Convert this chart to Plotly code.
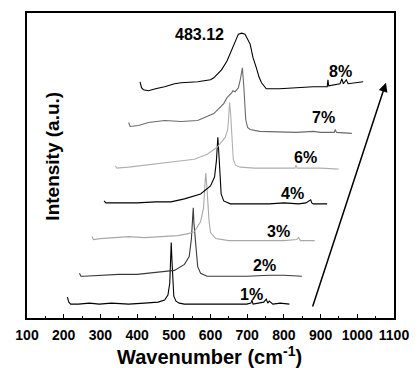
import plotly.graph_objects as go

# ---- data (wavenumber, intensity in arbitrary offset units) ----
x_1 = [210, 214, 219, 240, 270, 297, 330, 377, 420, 457, 475, 484, 489, 491, 493, 495, 497, 500, 506, 515, 529, 560, 600, 650, 699, 710, 713, 716, 730, 745, 752, 756, 760, 770, 790, 815]
y_1 = [21, 16, 14, 14, 15, 14, 15, 14, 15, 16, 18, 23, 35, 55, 76, 58, 35, 22, 17, 15, 14, 14, 14, 14, 14, 15, 18, 14, 15, 16, 19, 15, 17, 14, 15, 14]

x_2 = [243, 247, 255, 300, 350, 400, 457, 502, 529, 542, 548, 551, 553, 555, 558, 562, 565, 573, 591, 650, 700, 760, 800, 849]
y_2 = [45, 42, 42, 43, 44, 44, 46, 48, 54, 62, 80, 100, 111, 95, 80, 60, 52, 45, 42, 42, 42, 43, 43, 42]

x_3 = [277, 281, 300, 330, 377, 420, 457, 511, 540, 556, 573, 581, 585, 587, 590, 593, 596, 600, 614, 650, 700, 760, 800, 835, 840, 845, 884]
y_3 = [82, 79, 80, 81, 82, 81, 82, 83, 85, 87, 97, 111, 135, 146, 133, 110, 98, 86, 80, 78, 78, 78, 78, 79, 81, 78, 78]

x_4 = [310, 315, 350, 400, 450, 492, 529, 573, 600, 611, 616, 620, 624, 629, 636, 654, 700, 760, 800, 840, 860, 873, 876, 880, 918]
y_4 = [118, 116, 116, 116, 117, 117, 120, 125, 133, 142, 158, 182, 158, 125, 118, 115, 115, 115, 116, 115, 116, 119, 116, 115, 115]

x_6 = [341, 345, 377, 420, 466, 520, 556, 591, 618, 640, 647, 650, 652, 655, 658, 662, 668, 681, 720, 779, 830, 833, 836, 900, 949]
y_6 = [153, 151, 152, 154, 156, 158, 160, 165, 172, 182, 190, 205, 217, 205, 188, 160, 154, 152, 151, 151, 151, 154, 151, 151, 150]

x_7 = [377, 381, 404, 431, 475, 520, 565, 609, 636, 645, 658, 661, 667, 676, 681, 687, 691, 696, 701, 708, 734, 800, 833, 880, 900, 937, 940, 943, 985]
y_7 = [197, 193, 194, 197, 199, 198, 199, 206, 216, 222, 227, 229, 228, 232, 240, 252, 232, 200, 192, 190, 188, 187, 187, 188, 187, 187, 190, 187, 186]

x_8 = [408, 412, 417, 431, 450, 475, 502, 520, 565, 600, 609, 618, 630, 645, 655, 667, 676, 685, 694, 708, 716, 725, 732, 739, 752, 788, 833, 880, 918, 920, 922, 953, 958, 962, 970, 975, 1016]
y_8 = [238, 232, 230, 229, 231, 233, 236, 237, 238, 240, 242, 245, 250, 259, 268, 278, 286, 287, 286, 276, 262, 252, 243, 237, 231, 231, 232, 233, 233, 240, 234, 236, 241, 236, 240, 236, 238]

series = [
    ("1%", x_1, y_1, "#000000"),
    ("2%", x_2, y_2, "#3a3a3a"),
    ("3%", x_3, y_3, "#a8a8a8"),
    ("4%", x_4, y_4, "#000000"),
    ("6%", x_6, y_6, "#b0b0b0"),
    ("7%", x_7, y_7, "#6a6a6a"),
    ("8%", x_8, y_8, "#000000"),
]

x_ticks = [100, 200, 300, 400, 500, 600, 700, 800, 900, 1000, 1100]

FONT = "Liberation Sans, Arial, sans-serif"

fig = go.Figure()
for name, xs, ys, col in series:
    fig.add_trace(go.Scatter(x=xs, y=ys, mode="lines", name=name,
                             line=dict(color=col, width=1.1), showlegend=False))

labels = [("1%", 712, 24), ("2%", 746, 53), ("3%", 786, 87), ("4%", 824, 125),
          ("6%", 860, 162), ("7%", 909, 202), ("8%", 955, 248), ("483.12", 569, 286)]
for t, lx, ly in labels:
    fig.add_annotation(x=lx, y=ly, xref="x", yref="y", text="<b>" + t + "</b>", showarrow=False,
                       xanchor="center", yanchor="middle",
                       font=dict(family=FONT, size=16, color="black"))

# growth arrow
fig.add_annotation(x=1078, y=237, ax=877, ay=10, xref="x", yref="y", axref="x", ayref="y",
                   text="", showarrow=True, arrowhead=2, arrowsize=1.2, arrowwidth=1.5,
                   arrowcolor="black")

# axis titles
fig.add_annotation(x=0.497, y=-0.124, xref="paper", yref="paper",
                   xanchor="center", yanchor="middle",
                   text="<b>Wavenumber (cm<sup>-1</sup>)</b>", showarrow=False,
                   font=dict(family=FONT, size=20, color="black"))
fig.add_annotation(x=0.067, y=0.531, xref="paper", yref="paper", textangle=-90,
                   xanchor="center", yanchor="middle",
                   text="<b>Intensity (a.u.)</b>", showarrow=False,
                   font=dict(family=FONT, size=19, color="black"))

fig.update_layout(
    width=420, height=368,
    margin=dict(l=27, r=19, t=11, b=50),
    paper_bgcolor="white", plot_bgcolor="white",
    font=dict(family=FONT, color="black"),
)
fig.update_xaxes(range=[100, 1100], tickvals=x_ticks, ticktext=["<b>%d</b>" % v for v in x_ticks],
                 tickangle=0, ticks="inside", ticklen=4, tickwidth=1, tickcolor="black",
                 minor=dict(dtick=50, tick0=100, ticks="inside", ticklen=2, tickcolor="black"),
                 showline=True, linecolor="black", linewidth=1.5, mirror=True,
                 showgrid=False, zeroline=False, ticklabelstandoff=3,
                 tickfont=dict(family=FONT, size=14, color="black"))
fig.update_yaxes(range=[0, 307.3], showticklabels=False, ticks="",
                 showline=True, linecolor="black", linewidth=1.5, mirror=True,
                 showgrid=False, zeroline=False)

fig.write_html("out.html")
